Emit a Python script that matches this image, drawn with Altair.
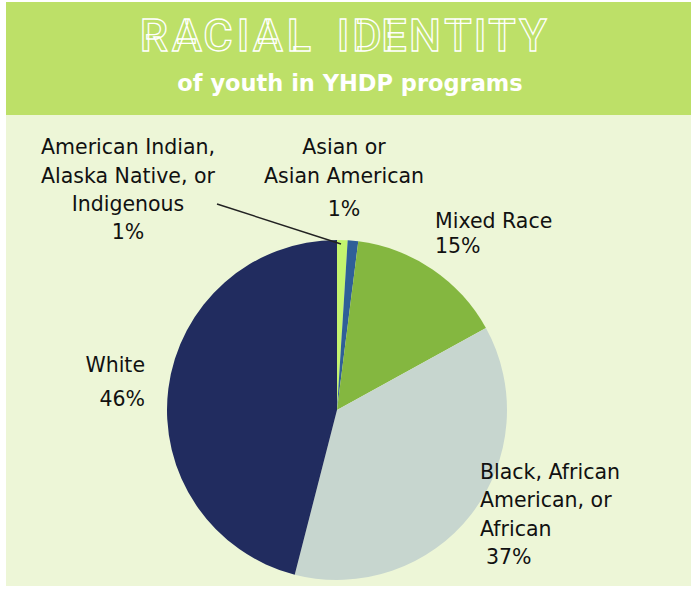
import altair as alt
import pandas as pd

W, H = 691, 590

# ---- data ----
categories = [
    "American Indian, Alaska Native, or Indigenous",
    "Asian or Asian American",
    "Mixed Race",
    "Black, African American, or African",
    "White",
]
values = [1, 1, 15, 37, 46]
percent_labels = ["1%", "1%", "15%", "37%", "46%"]
colors = ["#c4f46f", "#2f5f98", "#84b740", "#c7d6cf", "#212c5f"]

pie_df = pd.DataFrame({"category": categories, "value": values,
                       "order": list(range(len(categories)))})

# ---- label layout (pixel positions) ----
label_lines = [
    # text, x, y, align
    ("American Indian,", 128, 148, "center"),
    ("Alaska Native, or", 128, 177, "center"),
    ("Indigenous", 128, 205, "center"),
    (percent_labels[0], 128, 233, "center"),
    ("Asian or", 344, 148, "center"),
    ("Asian American", 344, 177, "center"),
    (percent_labels[1], 344, 210, "center"),
    ("Mixed Race", 435, 222, "left"),
    (percent_labels[2], 435, 247, "left"),
    ("Black, African", 480, 473, "left"),
    ("American, or", 480, 501, "left"),
    ("African", 480, 530, "left"),
    (percent_labels[3], 486, 558, "left"),
    ("White", 145, 366, "right"),
    (percent_labels[4], 145, 400, "right"),
]
lab_df = pd.DataFrame(label_lines, columns=["text", "x", "y", "align"])

# title letters with their letter-spaced centre positions
title_letters = list("RACIALIDENTITY")
title_x = [154, 187, 218, 243, 268, 299, 343, 367, 394, 425, 458, 480, 502, 533]
title_df = pd.DataFrame({"ch": title_letters, "x": title_x})

HEADER = "#bde068"
BODY = "#edf6d7"
FONT = "DejaVu Sans"

header = alt.Chart(pd.DataFrame({"a": [0]})).mark_rect(color=HEADER).encode(
    x=alt.value(6), x2=alt.value(W), y=alt.value(2), y2=alt.value(115))
body = alt.Chart(pd.DataFrame({"a": [0]})).mark_rect(color=BODY).encode(
    x=alt.value(6), x2=alt.value(W), y=alt.value(115), y2=alt.value(586))

title = alt.Chart(title_df).mark_text(
    font="Roboto", fontSize=45, fontWeight=500,
    fill=HEADER, stroke="white", strokeWidth=1.3, align="center", baseline="middle"
).encode(text="ch:N", x=alt.X("x:Q", scale=None, axis=None), y=alt.value(37))

subtitle = alt.Chart(pd.DataFrame({"t": ["of youth in YHDP programs"]})).mark_text(
    font=FONT, fontSize=22.5, fontWeight="bold", color="white",
    align="center", baseline="middle"
).encode(text="t:N", x=alt.value(350), y=alt.value(84))

pie = alt.Chart(pie_df).mark_arc(outerRadius=170).encode(
    theta=alt.Theta("value:Q", stack=True),
    order=alt.Order("order:Q"),
    color=alt.Color("category:N", scale=alt.Scale(domain=categories, range=colors), legend=None),
    x=alt.value(337), y=alt.value(410),
)

leader = alt.Chart(pd.DataFrame({"a": [0]})).mark_rule(color="#222222", strokeWidth=1.5).encode(
    x=alt.value(217), y=alt.value(204), x2=alt.value(341), y2=alt.value(244))

def label_layer(align):
    d = lab_df[lab_df["align"] == align]
    return alt.Chart(d).mark_text(
        font=FONT, fontSize=20.5, color="#111111", align=align, baseline="middle"
    ).encode(
        x=alt.X("x:Q", scale=None, axis=None),
        y=alt.Y("y:Q", scale=None, axis=None),
        text="text:N",
    )

chart = alt.layer(
    header, body, title, subtitle, pie, leader,
    label_layer("center"), label_layer("left"), label_layer("right"),
).properties(
    width=W, height=H, autosize=alt.AutoSizeParams(type="none"), padding=0,
    background="white",
).configure_view(stroke=None)

chart.save("out.html", embed_options={"renderer": "svg", "actions": False})
